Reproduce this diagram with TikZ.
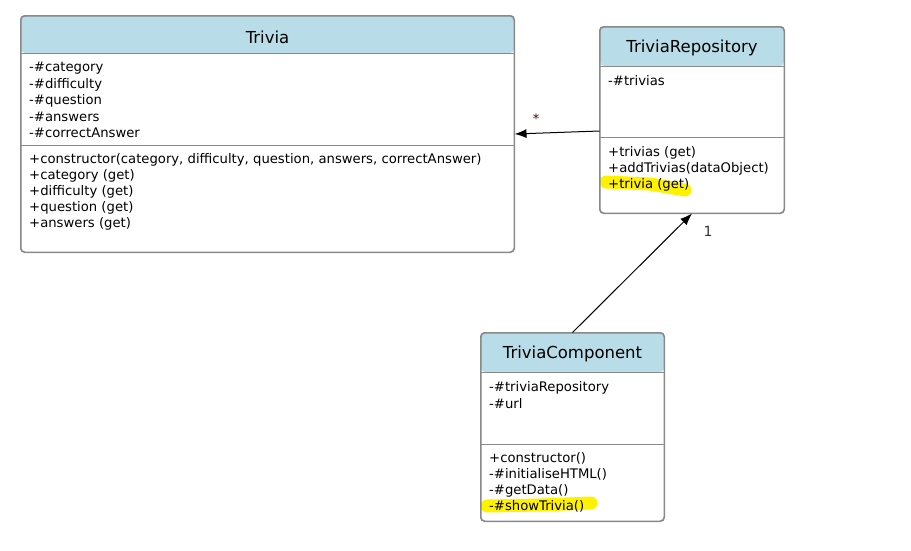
\documentclass[tikz,border=0pt]{standalone}
\usepackage{fontspec}
\setmainfont{DejaVu Sans}
\usetikzlibrary{arrows.meta}
\definecolor{hdr}{HTML}{B8DDE8}
\definecolor{bord}{HTML}{8A8A8A}
\definecolor{hl}{HTML}{FFF200}
\begin{document}
\begin{tikzpicture}[x=1pt,y=-1pt,
  classbox/.style={draw=bord, line width=1pt, rounded corners=4pt, inner sep=0pt},
  title/.style={font=\fontsize{16.5}{18}\selectfont, text=black, inner sep=0pt},
  member/.style={font=\fontsize{13.2}{15}\selectfont, anchor=west, inner sep=0pt, text=black, yshift=-1.5pt},
  divider/.style={draw=bord, line width=1pt},
  conn/.style={draw=black, line width=1pt, -{Latex[length=12pt,width=9pt]}},
  mult/.style={font=\fontsize{14}{16}\selectfont, text=black!80, inner sep=0pt},
  marker/.style={draw=hl, line width=13pt, line cap=round, line join=round}
]
\useasboundingbox[fill=white] (0,0) rectangle (911,550);

% highlights
\draw[marker] (606,182) -- (650,184) -- (685,190);
\draw[marker] (487,506) -- (540,505) -- (591,503);

% Trivia
\node[classbox, minimum width=493pt, minimum height=236pt,
  path picture={\fill[hdr] (path picture bounding box.north west) rectangle ([yshift=-37pt]path picture bounding box.north east);}]
  (trivia) at (267.5,134) {};
\draw[divider] (21,53) -- (514,53);
\draw[divider] (21,145) -- (514,145);
\draw[classbox, fill=none] (trivia.north west) rectangle (trivia.south east);
\node[title] (triviaT) at (267.5,37) {Trivia};
\node[member] (t1) at (29,67) {-\#category};
\node[member] (t2) at (29,83) {-\#difficulty};
\node[member] (t3) at (29,99) {-\#question};
\node[member] (t4) at (29,115) {-\#answers};
\node[member] (t5) at (29,131) {-\#correctAnswer};
\node[member] (t6) at (29,158) {+constructor(category, difficulty, question, answers, correctAnswer)};
\node[member] (t7) at (29,174) {+category (get)};
\node[member] (t8) at (29,190) {+difficulty (get)};
\node[member] (t9) at (29,206) {+question (get)};
\node[member] (t10) at (29,222) {+answers (get)};

% TriviaRepository
\node[classbox, minimum width=184pt, minimum height=186pt,
  path picture={\fill[hdr] (path picture bounding box.north west) rectangle ([yshift=-39pt]path picture bounding box.north east);}]
  (repo) at (692,120) {};
\draw[divider] (600,66) -- (784,66);
\draw[divider] (600,137) -- (784,137);
\draw[classbox, fill=none] (repo.north west) rectangle (repo.south east);
\node[title] (repoT) at (692,48) {TriviaRepository};
\node[member] (r1) at (608,79) {-\#trivias};
\node[member] (r2) at (608,151) {+trivias (get)};
\node[member] (r3) at (608,167) {+addTrivias(dataObject)};
\node[member] (r4) at (608,183) {+trivia (get)};

% TriviaComponent
\node[classbox, minimum width=183pt, minimum height=188pt,
  path picture={\fill[hdr] (path picture bounding box.north west) rectangle ([yshift=-39pt]path picture bounding box.north east);}]
  (comp) at (572.5,427) {};
\draw[divider] (481,372) -- (664,372);
\draw[divider] (481,444) -- (664,444);
\draw[classbox, fill=none] (comp.north west) rectangle (comp.south east);
\node[title] (compT) at (572.5,354) {TriviaComponent};
\node[member] (c1) at (489,386) {-\#triviaRepository};
\node[member] (c2) at (489,402) {-\#url};
\node[member] (c3) at (489,457) {+constructor()};
\node[member] (c4) at (489,473) {-\#initialiseHTML()};
\node[member] (c5) at (489,489) {-\#getData()};
\node[member] (c6) at (489,505) {-\#showTrivia()};

% connectors
\draw[conn] ([yshift=-11pt]repo.west) -- (trivia.east);
\draw[conn] (comp.north) -- (repo.south);
\node[font=\fontsize{13}{14}\selectfont, text=black!70!red, inner sep=0pt] (star) at (536,119) {*};
\node[mult] (one) at (708,231) {1};
\end{tikzpicture}
\end{document}
